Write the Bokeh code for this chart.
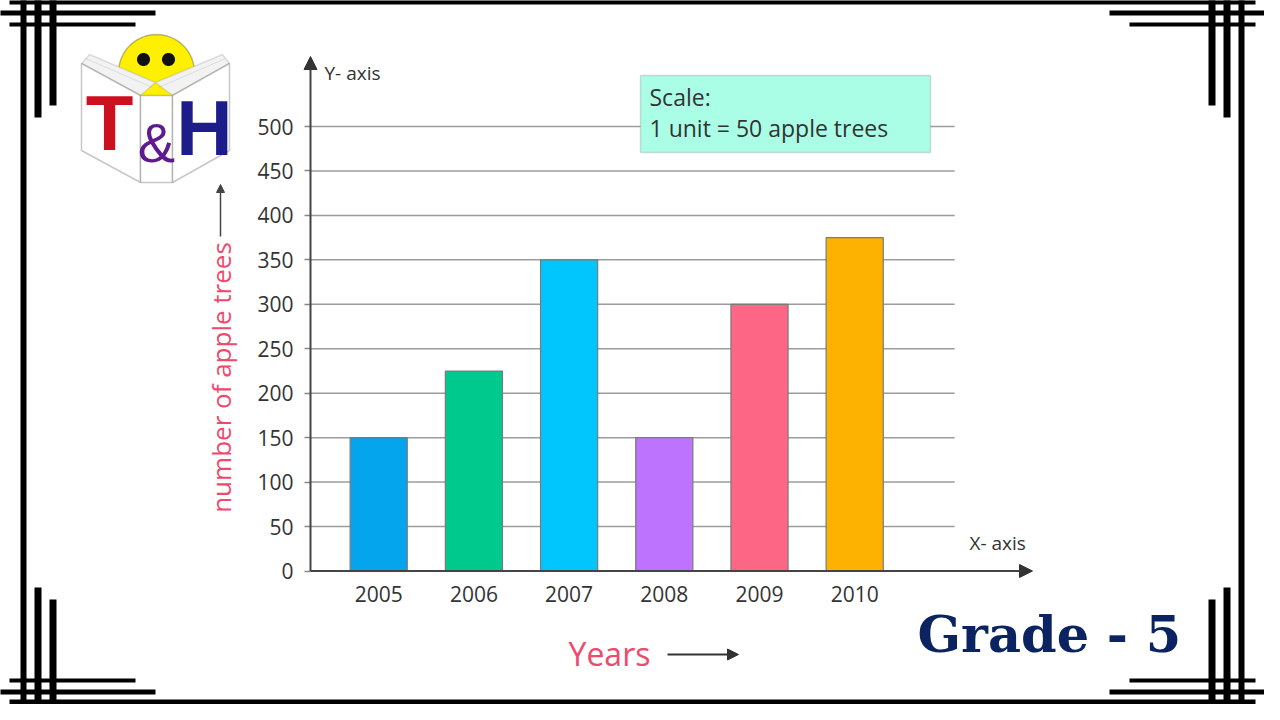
import numpy as np
from bokeh.plotting import figure
from bokeh.models import (Range1d, FixedTicker, BoxAnnotation, PolyAnnotation,
                          Label, Arrow, NormalHead)
from bokeh.embed import file_html
from bokeh.resources import INLINE

# ---------------- data ----------------
years = [2005, 2006, 2007, 2008, 2009, 2010]
year_labels = ["2005", "2006", "2007", "2008", "2009", "2010"]
apple_trees = [150, 225, 350, 150, 300, 375]
bar_colors = ["#05a5ee", "#00c98e", "#00c6fd", "#be73fe", "#fe6686", "#fdb100"]
y_ticks = [0, 50, 100, 150, 200, 250, 300, 350, 400, 450, 500]

# ---------------- geometry ----------------
W, H = 1264, 704
PX_PER_UNIT = 0.889          # vertical px per tree
PX_PER_YEAR = 95.2           # horizontal px per year
CENTER_YEAR, CENTER_PX = 2007.5, 616.2   # canvas px of the middle of the years
ZERO_PX = 570.5              # canvas px of value 0

XS = CENTER_YEAR - CENTER_PX / PX_PER_YEAR
XE = XS + W / PX_PER_YEAR
YS = -(H - ZERO_PX) / PX_PER_UNIT
YE = ZERO_PX / PX_PER_UNIT


def dx(px):
    """reference-image x pixel -> data x"""
    return XS + (px - 8) / PX_PER_YEAR


def dy(py):
    """reference-image y pixel -> data y"""
    return (ZERO_PX - (py - 8)) / PX_PER_UNIT


AXIS_X = dx(318)

FONT = "Open Sans"
PINK = "#ee4a6d"
DARK = "#333333"

p = figure(width=W, height=H, x_range=Range1d(XS, XE), y_range=Range1d(YS, YE),
           output_backend="svg", toolbar_location=None,
           min_border=0, min_border_left=0, min_border_right=0,
           min_border_top=0, min_border_bottom=0,
           background_fill_color="white", border_fill_color="white",
           outline_line_color=None)
p.grid.visible = False

# y axis (placed inside the plot area)
ya = p.yaxis[0]
ya.fixed_location = AXIS_X
ya.ticker = FixedTicker(ticks=y_ticks)
ya.axis_line_color = None
ya.major_tick_out = 6
ya.major_tick_in = 0
ya.minor_tick_out = 0
ya.minor_tick_in = 0
ya.major_tick_line_color = "#888888"
ya.major_tick_line_width = 1.5
ya.major_label_standoff = 11
ya.major_label_text_font = FONT
ya.major_label_text_font_size = "21px"
ya.major_label_text_color = DARK

# x axis
xa = p.xaxis[0]
xa.fixed_location = 0
xa.ticker = FixedTicker(ticks=years)
xa.major_label_overrides = {y: s for y, s in zip(years, year_labels)}
xa.axis_line_color = None
xa.major_tick_out = 0
xa.major_tick_in = 0
xa.minor_tick_out = 0
xa.minor_tick_in = 0
xa.major_label_standoff = 15
xa.major_label_text_font = FONT
xa.major_label_text_font_size = "21px"
xa.major_label_text_color = DARK

# grid lines
grid_vals = y_ticks[1:]
grid_end = years[-1] + 1.05
p.segment(x0=[AXIS_X] * len(grid_vals), y0=grid_vals, x1=[grid_end] * len(grid_vals),
          y1=grid_vals, line_color="#9c9c9c", line_width=1.5)

# bars
p.vbar(x=years, top=apple_trees, bottom=0, width=0.6, fill_color=bar_colors,
       line_color="#7a7a7a", line_width=1.2)

# axis arrows
p.add_layout(Arrow(end=NormalHead(size=13, fill_color="#333", line_color="#333"),
                   x_start=AXIS_X, y_start=0, x_end=AXIS_X, y_end=dy(64),
                   line_color="#444", line_width=2))
p.add_layout(Arrow(end=NormalHead(size=13, fill_color="#333", line_color="#333"),
                   x_start=AXIS_X, y_start=0, x_end=dx(1040), y_end=0,
                   line_color="#444", line_width=2))

p.add_layout(Label(x=dx(332), y=dy(80), text="Y- axis", text_baseline="middle",
                   text_font=FONT, text_font_size="19px", text_color=DARK))
p.add_layout(Label(x=dx(977), y=dy(550), text="X- axis", text_baseline="middle",
                   text_font=FONT, text_font_size="19px", text_color=DARK))

# scale box
p.add_layout(BoxAnnotation(left=dx(648), right=dx(938), top=dy(83), bottom=dy(160),
                           fill_color="#abfee6", fill_alpha=1.0,
                           line_color="#8a8a8a", line_width=1.5))
p.add_layout(Label(x=dx(657), y=dy(104), text="Scale:", text_baseline="middle",
                   text_font=FONT, text_font_size="23px", text_color=DARK))
p.add_layout(Label(x=dx(657), y=dy(135), text="1 unit = 50 apple trees",
                   text_baseline="middle",
                   text_font=FONT, text_font_size="23px", text_color=DARK))

# y title
p.add_layout(Label(x=dx(228), y=dy(385), text="number of apple trees", angle=np.pi / 2,
                   text_align="center", text_baseline="middle",
                   text_font=FONT, text_font_size="26px", text_color=PINK))
p.add_layout(Arrow(end=NormalHead(size=8, fill_color="#444", line_color="#444"),
                   x_start=dx(228), y_start=dy(244), x_end=dx(228), y_end=dy(192),
                   line_color="#444", line_width=1.5))

# x title
p.add_layout(Label(x=dx(576), y=dy(661), text="Years", text_baseline="middle",
                   text_font=FONT, text_font_size="32px", text_color=PINK))
p.add_layout(Arrow(end=NormalHead(size=11, fill_color="#333", line_color="#333"),
                   x_start=dx(675), y_start=dy(662), x_end=dx(746), y_end=dy(662),
                   line_color="#333", line_width=1.8))

# Grade - 5
p.add_layout(Label(x=dx(925), y=dy(641), text="Grade - 5", text_baseline="middle",
                   text_font="DejaVu Serif", text_font_style="bold",
                   text_font_size="51px", text_color="#0b2361"))

# ---------------- decorative border (reference px) ----------------
corner = [  # x0, x1, y0, y1 for the top-left corner pattern
    (0, 163, 18, 23),
    (17, 143, 30, 34),
    (42, 49, 0, 125),
    (57, 64, 7, 113),
]
main = [
    (17, 1263, 7, 12), (17, 1263, 707, 712),
    (28, 34, 7, 713), (1246, 1252, 7, 713),
]
rects = list(main)
for (x0, x1, y0, y1) in corner:
    rects.append((x0, x1, y0, y1))
    rects.append((1280 - x1, 1280 - x0, y0, y1))
    rects.append((x0, x1, 720 - y1, 720 - y0))
    rects.append((1280 - x1, 1280 - x0, 720 - y1, 720 - y0))
for (x0, x1, y0, y1) in rects:
    p.add_layout(BoxAnnotation(left=dx(x0), right=dx(x1), top=dy(y0), bottom=dy(y1),
                               fill_color="black", fill_alpha=1.0, line_color=None))

# ---------------- logo ----------------
def poly(pts, fill, line="#222", lw=1.5):
    p.add_layout(PolyAnnotation(xs=[dx(a) for a, b in pts], ys=[dy(b) for a, b in pts],
                                fill_color=fill, fill_alpha=1.0,
                                line_color=line, line_width=lw))


def circ(cx, cy, r, fill, line="#222"):
    t = np.linspace(0, 2 * np.pi, 48, endpoint=False)
    poly(list(zip(cx + r * np.cos(t), cy + r * np.sin(t))), fill, line)


circ(164, 80, 38, "#fff000")
circ(151, 67, 6.5, "#111111", None)
circ(176, 67, 6.5, "#111111", None)
poly([(89, 71), (97, 62), (163, 90), (148, 103)], "#f2f2f2", "#999")
poly([(93, 66), (160, 95)], "#f2f2f2", "#aaa", 1)
poly([(237, 71), (230, 62), (163, 90), (180, 103)], "#f2f2f2", "#999")
poly([(233, 66), (166, 95)], "#f2f2f2", "#aaa", 1)
poly([(89, 71), (148, 103), (148, 190), (89, 158)], "white", "#444")
poly([(148, 103), (180, 103), (180, 190), (148, 190)], "white", "#444")
poly([(180, 103), (237, 71), (237, 158), (180, 190)], "white", "#444")
p.add_layout(Label(x=dx(117), y=dy(130), text="T", text_align="center",
                   text_baseline="middle", text_font="Liberation Sans",
                   text_font_style="bold", text_font_size="78px", text_color="#cc1020"))
p.add_layout(Label(x=dx(164), y=dy(150), text="&", text_align="center",
                   text_baseline="middle", text_font="Liberation Sans",
                   text_font_size="56px", text_color="#5e1a8e"))
p.add_layout(Label(x=dx(212), y=dy(135), text="H", text_align="center",
                   text_baseline="middle", text_font="Liberation Sans",
                   text_font_style="bold", text_font_size="78px", text_color="#1c1c8a"))

open("out.html", "w").write(file_html(p, INLINE))
